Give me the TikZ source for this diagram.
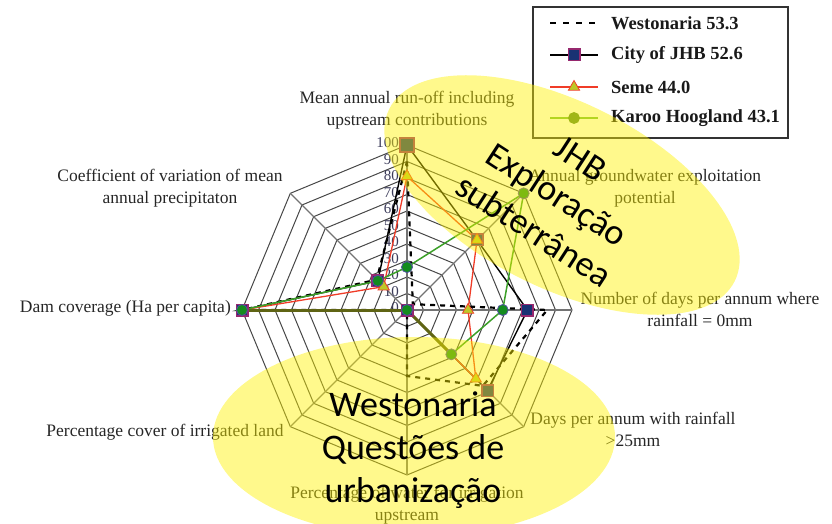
\documentclass[tikz,border=0pt]{standalone}
\usepackage{fontspec}
\setmainfont{Liberation Serif}
\newfontfamily\calib{Carlito}
\usetikzlibrary{shapes.geometric}
\definecolor{jhbfill}{RGB}{25,50,115}
\definecolor{jhbedge}{RGB}{150,40,110}
\definecolor{semecol}{RGB}{240,60,40}
\definecolor{semefill}{RGB}{190,200,40}
\definecolor{karcol}{RGB}{60,160,40}
\definecolor{karlegend}{RGB}{120,190,60}
\definecolor{karfill}{RGB}{20,140,30}
\definecolor{karedge}{RGB}{80,80,160}
\definecolor{olivecol}{RGB}{95,100,20}
\definecolor{tickcol}{RGB}{60,60,90}
\begin{document}
\begin{tikzpicture}[x=1pt,y=-1pt,
  gridline/.style={draw=black!72, line width=1pt},
  spoke/.style={draw=black!55, line width=1.4pt},
  westline/.style={draw=black, line width=2.2pt, dash pattern=on 5pt off 5pt},
  jhbline/.style={draw=black, line width=1.4pt},
  semeline/.style={draw=semecol, line width=1.3pt},
  karooline/.style={draw=karcol, line width=1.5pt},
  oliveline/.style={draw=olivecol, line width=3pt},
  jhbmark/.style={rectangle, draw=jhbedge, fill=jhbfill, line width=1.5pt, minimum size=11.5pt, inner sep=0pt},
  semark/.style={regular polygon, regular polygon sides=3, draw=semecol, fill=semefill, line width=0.8pt, minimum size=13pt, inner sep=0pt},
  karmark/.style={circle, fill=karfill, draw=karedge, line width=0.8pt, minimum size=11pt, inner sep=0pt},
  lab/.style={font=\fontsize{17.5}{22}\selectfont, text=black!85, align=center, inner sep=0pt},
  tick/.style={font=\fontsize{15}{15}\selectfont, text=tickcol, inner sep=0pt, anchor=east},
  legtext/.style={font=\bfseries\fontsize{18.5}{20}\selectfont, text=black!90, anchor=west, inner sep=0pt},
  hl/.style={fill=yellow, fill opacity=0.45},
  bigtext/.style={font=\calib\fontsize{36}{43}\selectfont, text=black, align=center, inner sep=0pt}
]
\useasboundingbox (0,0) rectangle (832,524);
\coordinate (C) at (407,310);
% grid rings
\foreach \r in {1,...,10}{
  \draw[gridline] (407,{310-16.5*\r}) \foreach \k in {1,...,7}{ -- ({407+16.5*\r*sin(45*\k)},{310-16.5*\r*cos(45*\k)}) } -- cycle;
}
% spokes
\foreach \k in {0,...,7}{
  \coordinate (O\k) at ({407+165*sin(45*\k)},{310-165*cos(45*\k)});
  \draw[spoke] (C) -- (O\k);
}
% tick labels
\foreach \t in {0,...,10}{
  \node[tick] (tk\t) at (399,{308-16.5*\t}) {\number\numexpr\t*10\relax};
}
% axis labels
\node[lab] (Ltop) at (407,110) {Mean annual run-off including\\upstream contributions};
\node[lab] (Lur) at (645,188) {Annual groundwater exploitation\\potential};
\node[lab] (Lr) at (700,309) {Number of days per annum where\\rainfall = 0mm};
\node[lab] (Llr) at (633,429) {Days per annum with rainfall\\>25mm};
\node[lab] (Lb) at (407,505) {Percentage of water for irrigation\\upstream};
\node[lab] (Lll) at (165,432) {Percentage cover of irrigated land};
\node[lab, anchor=east] (Ll) at (231,308) {Dam coverage (Ha per capita)};
\node[lab] (Lul) at (170,188) {Coefficient of variation of mean\\annual precipitaton};
% data coordinates
\foreach \k/\v in {0/90,1/5,2/85,3/65,4/40,5/0,6/100,7/26}
  \coordinate (W\k) at ({407+1.65*\v*sin(45*\k)},{310-1.65*\v*cos(45*\k)});
\foreach \k/\v in {0/100,1/60,2/73,3/69,4/0,5/0,6/100,7/25}
  \coordinate (J\k) at ({407+1.65*\v*sin(45*\k)},{310-1.65*\v*cos(45*\k)});
\foreach \k/\v in {0/81,1/60,2/37,3/59,4/0,5/0,6/100,7/20}
  \coordinate (S\k) at ({407+1.65*\v*sin(45*\k)},{310-1.65*\v*cos(45*\k)});
\foreach \k/\v in {0/26,1/100,2/58,3/38,4/0,5/0,6/100,7/25}
  \coordinate (K\k) at ({407+1.65*\v*sin(45*\k)},{310-1.65*\v*cos(45*\k)});
% series lines
\draw[westline] (W0)--(W1)--(W2)--(W3)--(W4)--(W5)--(W6)--(W7)--cycle;
\draw[jhbline] (J0)--(J1)--(J2)--(J3)--(J4)--(J5)--(J6)--(J7)--cycle;
\draw[semeline] (S0)--(S1)--(S2)--(S3)--(S4)--(S5)--(S6)--(S7)--cycle;
\draw[karooline] (K0)--(K1)--(K2)--(K3)--(K4)--(K5)--(K6)--(K7)--cycle;
\draw[oliveline] (J6) -- (C);
\draw[oliveline] (C) -- (K3);
% markers
\foreach \k in {0,...,7} \node[jhbmark] (mJ\k) at (J\k) {};
\node[jhbmark, minimum size=14pt] (mJtop) at (J0) {};
\foreach \k in {0,1,2,3,7} \node[semark] (mS\k) at (S\k) {};
\foreach \k in {0,1,2,3,4,6,7} \node[karmark] (mK\k) at (K\k) {};
% legend
\node[draw=black!80, line width=1.4pt, minimum width=255pt, minimum height=131pt, inner sep=0pt] (leg) at (660.5,72.5) {};
\coordinate (a1) at (550,23); \coordinate (b1) at (598,23);
\coordinate (a2) at (550,55); \coordinate (b2) at (598,55);
\coordinate (a3) at (550,87); \coordinate (b3) at (598,87);
\coordinate (a4) at (550,118); \coordinate (b4) at (598,118);
\draw[westline, dash pattern=on 6pt off 7pt] (a1) -- (b1);
\draw[jhbline] (a2) -- (b2);
\node[jhbmark] (lm2) at (574,55) {};
\draw[semeline, line width=1.6pt] (a3) -- (b3);
\node[semark] (lm3) at (574,87) {};
\draw[draw=karlegend, line width=1.6pt] (a4) -- (b4);
\node[karmark, fill=karlegend!70!black, draw=karlegend!70!black] (lm4) at (574,118) {};
\node[legtext] (lt1) at (611,23) {Westonaria 53.3};
\node[legtext] (lt2) at (611,55) {City of JHB 52.6};
\node[legtext] (lt3) at (611,87) {Seme 44.0};
\node[legtext] (lt4) at (611,118) {Karoo Hoogland 43.1};
% highlight ellipses
\fill[hl, rotate around={-26.5:(562,195)}] (562,195) ellipse [x radius=193pt, y radius=93pt];
\fill[hl] (414,437) ellipse [x radius=201pt, y radius=100pt];
% overlay texts
\node[bigtext, rotate=-33] (jhbt) at (557,195) {JHB\\Exploração\\subterrânea};
\node[bigtext] (westt) at (413,450) {Westonaria\\Questões de\\urbanização};
\end{tikzpicture}
\end{document}
